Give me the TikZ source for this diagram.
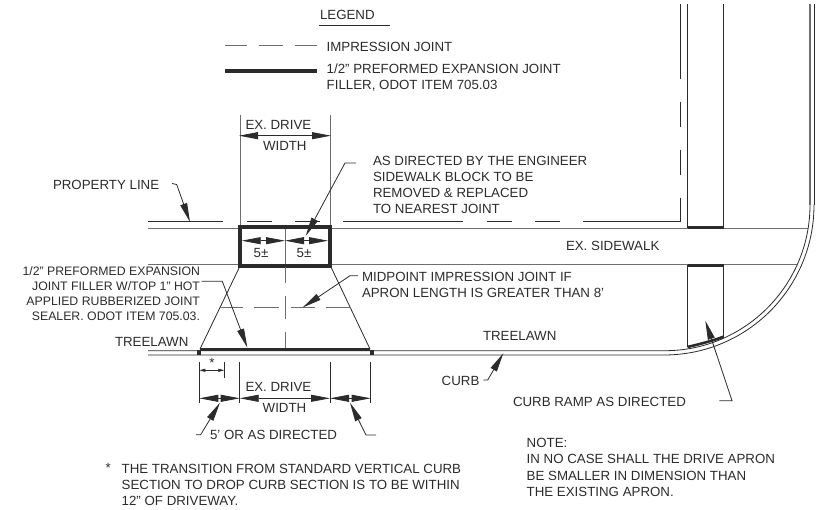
\documentclass[tikz,border=0pt]{standalone}
\usepackage{fontspec}
\setmainfont{Liberation Sans}
\usetikzlibrary{positioning,arrows.meta}
\definecolor{inkdark}{HTML}{2B2B2B}
\definecolor{inkgrey}{HTML}{6E6E6E}

\begin{document}
\begin{tikzpicture}[x=1pt,y=-1pt,>={Triangle[length=19pt,width=7pt]}]
  \tikzset{every node/.style={inner sep=0pt,outer sep=0pt,text=inkdark,font=\fontsize{13.3}{16}\selectfont}}
  \tikzset{note_label/.style={anchor=west,align=left}}
  \tikzset{thin_line/.style={draw=inkdark,line width=0.8pt}}
  \tikzset{grey_line/.style={draw=inkgrey,line width=0.9pt}}
  \tikzset{joint_line/.style={draw=inkdark,line width=3pt}}
  \tikzset{box_line/.style={draw=inkdark,line width=3.4pt}}
  \tikzset{imp_line/.style={draw=inkgrey,line width=1pt}}
  \tikzset{small_dim/.style={thin_line,>={Triangle[length=6pt,width=3pt]}}}

  \useasboundingbox (0,0) rectangle (817,510);

  % legend
  \node[note_label] (legend) at (320,15) {LEGEND};
  \node[note_label] (impression) at (326.7,47) {IMPRESSION JOINT};
  \node[note_label] (filler) at (326.7,78) {1/2" PREFORMED EXPANSION JOINT\\FILLER, ODOT ITEM 705.03};
  \draw[thin_line] (319,25) -- (390,25);
  \foreach \a/\b in {225/247,258.7/283,295/317} \draw[imp_line] (\a,46) -- (\b,46);
  \draw[draw=inkdark,line width=4pt] (225,71) -- (317,71);

  % sidewalk, property line
  \draw[grey_line] (148,228.6) -- (240,228.6);
  \draw[grey_line] (330,228.6) -- (808,228.6);
  \draw[grey_line] (148,264.6) -- (240,264.6);
  \draw[grey_line] (330,264.6) -- (797,264.6);
  \foreach \a/\b in {148/223,247/271.7,295/320,343/463,486.7/511.7,535/559.7} \draw[thin_line] (\a,221.3) -- (\b,221.3);
  \draw[thin_line] (583,221.3) -- (680,221.3) -- (680,198);
  \foreach \a/\b in {150/175,102/127,4/79} \draw[thin_line] (680,\a) -- (680,\b);

  % curb ramp column and curb
  \draw[thin_line] (687.5,4) -- (687.5,228);
  \draw[thin_line] (723.5,4) -- (723.5,228);
  \draw[thin_line] (687.5,265) -- (687.5,347);
  \draw[thin_line] (723.5,265) -- (723.5,336.7);
  \draw[draw=inkdark,line width=3pt] (687.5,227.5) -- (723.5,227.5);
  \draw[draw=inkdark,line width=3pt] (687.5,266) -- (723.5,266);
  \draw[draw=inkdark,line width=2.6pt] (687.5,347) .. controls (700,344) and (712,341) .. (723.5,336.7);
  \draw[grey_line,line width=1.4pt] (810,4) -- (810,205);
  \draw[thin_line] (814,4) -- (814,205);
  \draw[thin_line] (148,350.7) -- (665,350.7) .. controls (745,350.7) and (810,285) .. (810,205);
  \draw[thin_line] (148,355) -- (664,355) .. controls (747,355) and (814,288) .. (814,205);

  % drive
  \draw[grey_line] (240,115) -- (240,226);
  \draw[grey_line] (330,115) -- (330,226);
  \draw[grey_line] (285,227) -- (285,265);
  \draw[box_line] (240,227) rectangle (330,266);
  \draw[thin_line] (240,266) -- (200,349);
  \draw[thin_line] (330.5,266) -- (370,349);
  \foreach \a/\b in {220/243,254/279,290.7/315.3,326/350.7} \draw[imp_line] (\a,307.7) -- (\b,307.7);
  \foreach \a/\b in {267/283,296/319,332/348} \draw[imp_line] (285,\a) -- (285,\b);
  \draw[joint_line] (200,349.2) -- (370,349.2);
  \fill[inkdark] (196.5,350) rectangle (200.5,355);
  \fill[inkdark] (369.8,350) rectangle (373.5,355);

  % dimensions
  \node[note_label] (drive_a) at (245.5,125) {EX. DRIVE};
  \node[note_label] (width_a) at (263,146) {WIDTH};
  \draw[<->,thin_line] (239,135.7) -- (331,135.7);
  \draw[<->,thin_line] (241.7,240.7) -- (285,240.7);
  \draw[<->,thin_line] (285,240.7) -- (328,240.7);
  \node (five_a) at (261,253) {5±};
  \node (five_b) at (304,253) {5±};

  \foreach \a/\b in {199.3/403,239.7/403,330/403,370.7/403} \draw[thin_line] (\a,362) -- (\a,\b);
  \draw[thin_line] (224.3,362) -- (224.3,378);
  \node (star_a) at (212,363) {*};
  \draw[<->,small_dim] (199.3,370.3) -- (224.3,370.3);
  \draw[<->,thin_line] (199.3,398.3) -- (239.7,398.3);
  \draw[<->,thin_line] (239.7,398.3) -- (330,398.3);
  \draw[<->,thin_line] (330,398.3) -- (370.7,398.3);
  \node[note_label] (drive_b) at (245.5,387) {EX. DRIVE};
  \node[note_label] (width_b) at (262.7,408) {WIDTH};
  \node[note_label] (five_feet) at (210,435) {5' OR AS DIRECTED};

  % labels with leaders
  \node[note_label] (property) at (53,185) {PROPERTY LINE};
  \draw[->,thin_line] (172,183.5) -- (176.7,184.5) -- (190,222);
  \node[note_label] (engineer) at (373,185) {AS DIRECTED BY THE ENGINEER\\SIDEWALK BLOCK TO BE\\REMOVED \& REPLACED\\TO NEAREST JOINT};
  \draw[->,thin_line] (356,163) -- (345,163) -- (305.7,236);
  \node[note_label] (midpoint) at (362,284.5) {MIDPOINT IMPRESSION JOINT IF\\APRON LENGTH IS GREATER THAN 8'};
  \draw[->,thin_line] (358,275.7) -- (350,275.7) -- (302.7,307.5);
  \node[anchor=east,align=right,font=\fontsize{12.3}{15}\selectfont] (preformed) at (200,294) {1/2" PREFORMED EXPANSION\\JOINT FILLER W/TOP 1" HOT\\APPLIED RUBBERIZED JOINT\\SEALER. ODOT ITEM 705.03.};
  \draw[->,thin_line] (201.7,281.3) -- (222.3,281.3) -- (247.3,347.5);
  \draw[->,thin_line] (196,434.7) -- (200.7,434.7) -- (220,402.7);
  \draw[->,thin_line] (376,435) -- (366,435) -- (350,402.7);
  \node[note_label] (sidewalk) at (566,246) {EX. SIDEWALK};
  \node[note_label] (treelawn_a) at (115,341.7) {TREELAWN};
  \node[note_label] (treelawn_b) at (483,336) {TREELAWN};
  \node[note_label] (curb) at (441.7,380.7) {CURB};
  \draw[->,thin_line] (483.3,380) -- (487.7,380) -- (503.3,353.3);
  \node[note_label] (ramp) at (513,402) {CURB RAMP AS DIRECTED};
  \draw[->,thin_line] (719.3,400.7) -- (732,400.7) -- (705.3,320.7);

  % notes
  \node[note_label,font=\fontsize{13.3}{16.3}\selectfont] (note) at (526.7,467.5) {NOTE:\\IN NO CASE SHALL THE DRIVE APRON\\BE SMALLER IN DIMENSION THAN\\THE EXISTING APRON.};
  \node (star_b) at (108.3,468) {*};
  \node[note_label] (transition) at (121.7,484.5) {THE TRANSITION FROM STANDARD VERTICAL CURB\\SECTION TO DROP CURB SECTION IS TO BE WITHIN\\12" OF DRIVEWAY.};
\end{tikzpicture}
\end{document}
